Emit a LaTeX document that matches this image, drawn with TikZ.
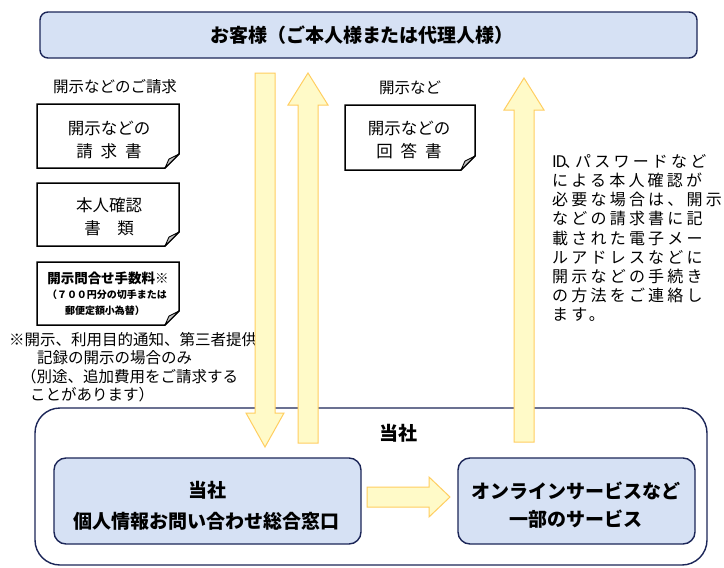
\documentclass[tikz,border=0pt]{standalone}
\usepackage{fontspec}
\setmainfont{Noto Sans CJK JP}
\definecolor{navy}{RGB}{28,38,88}
\definecolor{boxblue}{RGB}{214,225,244}
\definecolor{arrowfill}{RGB}{255,250,200}
\definecolor{arrowedge}{RGB}{255,206,96}
\definecolor{foldgrey}{RGB}{196,196,196}
\newcommand{\fsz}[1]{\fontsize{#1}{#1}\selectfont}
\newcommand{\mydoc}[5]{%
  \draw[docsheet] (#2,#3) -- (#4,#3) -- (#4,#5-14) -- (#4-14,#5) -- (#2,#5) -- cycle;
  \filldraw[fill=foldgrey, draw=black, line width=0.9pt, line join=round]
    (#4,#5-14) -- (#4-14,#5) -- (#4-10,#5-9) -- cycle;
  \coordinate (#1) at ({(#2+#4)/2},{(#3+#5)/2});}
\begin{document}
\begin{tikzpicture}[x=1pt,y=-1pt,
  bluebox/.style={draw=navy, line width=1.4pt, fill=boxblue, inner sep=0pt},
  blockarrow/.style={fill=arrowfill, draw=arrowedge, line width=1pt, line join=miter},
  docsheet/.style={draw=black, line width=1.5pt, fill=white, line join=miter},
  txt/.style={inner sep=0pt, anchor=center},
  ltxt/.style={inner sep=0pt, anchor=west}]
\useasboundingbox (0,0) rectangle (724,568);
\fill[white] (0,0) rectangle (724,568);

% top box
\node[bluebox, rounded corners=8pt, minimum width=657pt, minimum height=46pt] (client) at (368.5,35) {};
\node[txt, font=\bfseries\fsz{19}] (clientT) at (362,35) {お客様（ご本人様または代理人様）};

% outer company box
\node[draw=navy, line width=1.4pt, fill=white, rounded corners=25pt, minimum width=672pt, minimum height=157pt, inner sep=0pt] (company) at (371,486.5) {};
\node[txt, font=\bfseries\fsz{19}] (companyT) at (398,433) {当社};

% inner boxes
\node[bluebox, rounded corners=12pt, minimum width=307pt, minimum height=86pt] (desk) at (207.5,501) {};
\node[txt, font=\bfseries\fsz{19}] (deskA) at (207,490) {当社};
\node[txt, font=\bfseries\fsz{19}] (deskB) at (207,521) {個人情報お問い合わせ総合窓口};

\node[bluebox, rounded corners=12pt, minimum width=237pt, minimum height=86pt] (online) at (576.5,501) {};
\node[txt, font=\bfseries\fsz{19}] (onlineA) at (576,491) {オンラインサービスなど};
\node[txt, font=\bfseries\fsz{19}] (onlineB) at (576,519) {一部のサービス};

% left labels and documents
\node[txt, font=\fsz{15.5}] (reqL) at (115,87) {開示などのご請求};
\mydoc{doc1}{37}{104}{179}{168}
\node[txt, font=\fsz{16.5}] (doc1a) at (109,128) {開示などの};
\node[txt, font=\fsz{16.5}] (doc1b) at (109,151) {請\hspace{8pt}求\hspace{8pt}書};
\mydoc{doc2}{37}{183}{179}{246}
\node[txt, font=\fsz{16.5}] (doc2a) at (109,205) {本人確認};
\node[txt, font=\fsz{16.5}] (doc2b) at (109,228) {書　類};
\mydoc{doc3}{37}{262}{179}{325}
\node[txt, font=\bfseries\fsz{13.5}] (doc3a) at (108,278) {開示問合せ手数料※};
\node[txt, font=\bfseries\fsz{10}] (doc3b) at (107,295) {（７００円分の切手または};
\node[txt, font=\bfseries\fsz{10}] (doc3c) at (105,311) {郵便定額小為替）};

\node[ltxt, font=\fsz{15.5}] (note1) at (9,340) {※開示、利用目的通知、第三者提供};
\node[ltxt, font=\fsz{15.5}] (note2) at (37,358) {記録の開示の場合のみ};
\node[ltxt, font=\fsz{15.5}] (note3) at (21,377) {（別途、追加費用をご請求する};
\node[ltxt, font=\fsz{15.5}] (note4) at (30,395) {ことがあります）};

% right label and document
\node[txt, font=\fsz{15.5}] (ansL) at (410,88) {開示など};
\mydoc{doc4}{345}{105}{475}{170}
\node[txt, font=\fsz{16.5}] (doc4a) at (409,128) {開示などの};
\node[txt, font=\fsz{16.5}] (doc4b) at (409,151) {回\hspace{8pt}答\hspace{8pt}書};

% right explanation
\node[anchor=north west, inner sep=0pt, align=left, font=\fontsize{16}{19.2}\selectfont\addfontfeature{LetterSpace=20}] (expl) at (552,154)
{\makebox[23pt][l]{I\kern-1.2ptD\kern-2.5pt、}パスワードなど\\による本人確認が\\必要な場合は、開示\\などの請求書に記\\載された電子メー\\ルアドレスなどに\\開示などの手続き\\の方法をご連絡し\\ます。};

% block arrows
\coordinate (dnTop) at (265,73);
\coordinate (dnTip) at (265,447);
\draw[blockarrow] (255,73) -- (275,73) -- (275,413) -- (284,413) -- (dnTip) -- (246,413) -- (255,413) -- cycle;

\coordinate (upTip) at (308,73);
\draw[blockarrow] (298,443) -- (318,443) -- (318,105) -- (328,105) -- (upTip) -- (288,105) -- (298,105) -- cycle;

\coordinate (up2Tip) at (524,78);
\draw[blockarrow] (514,442) -- (534,442) -- (534,110) -- (544,110) -- (up2Tip) -- (504,110) -- (514,110) -- cycle;

\coordinate (rtTip) at (450,497);
\draw[blockarrow] (367,487) -- (429,487) -- (429,477) -- (rtTip) -- (429,517) -- (429,507) -- (367,507) -- cycle;
\end{tikzpicture}
\end{document}
